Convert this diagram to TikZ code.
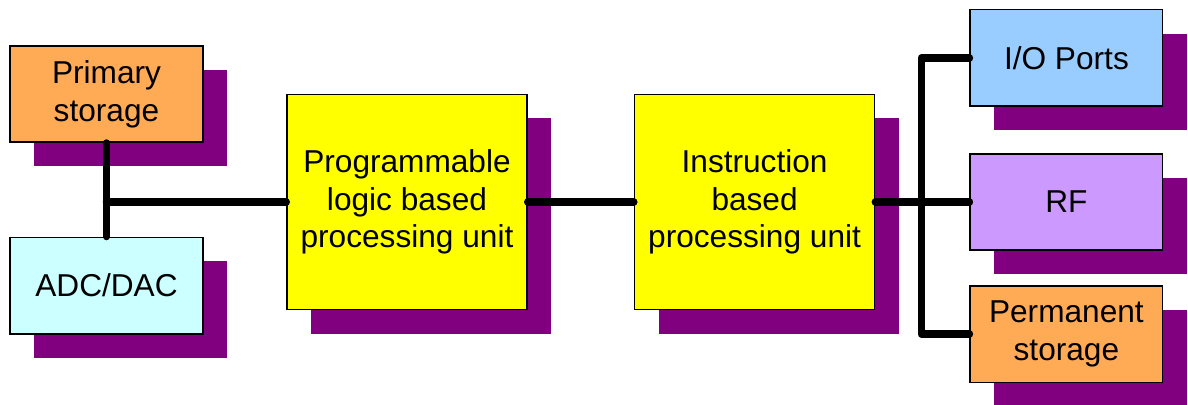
\documentclass[tikz,border=0pt]{standalone}
\usepackage{fontspec}
\setmainfont{Liberation Sans}
\usetikzlibrary{positioning,shadows}

\definecolor{shadowpurple}{HTML}{800080}
\definecolor{storeorange}{HTML}{FFAA55}
\definecolor{adccyan}{HTML}{CCFFFF}
\definecolor{portblue}{HTML}{99CCFF}
\definecolor{rfviolet}{HTML}{CC99FF}
\definecolor{unityellow}{HTML}{FFFF00}

\begin{document}
\begin{tikzpicture}[auto,node distance=1.87cm,
		box node/.style={rectangle,draw,line width=0.9pt,align=center,inner sep=0pt,
			font=\fontsize{18}{21.5}\selectfont,
			drop shadow={shadow xshift=0.48cm,shadow yshift=-0.48cm,fill=shadowpurple,opacity=1}},
		small node/.style={box node,minimum width=3.85cm,minimum height=1.93cm},
		big node/.style={box node,minimum width=4.8cm,minimum height=4.3cm,fill=unityellow}]
		
		\useasboundingbox (0,0) rectangle (23.76,8.08);
		
		\node[small node,fill=storeorange] (1) at (2.13,6.2) {Primary\\storage};
		\node[small node,fill=adccyan] (2) [below=of 1] {ADC/DAC};
		\node[big node] (3) at (8.14,4.04) {Programmable\\logic based\\processing unit};
		\node[big node] (4) [right=2.12cm of 3] {Instruction\\based\\processing unit};
		\node[small node,fill=rfviolet] (6) [right=1.88cm of 4] {RF};
		\node[small node,fill=portblue] (5) [above=0.92cm of 6] {I/O Ports};
		\node[small node,fill=storeorange] (7) [below=0.68cm of 6] {Permanent\\storage};
		
		\coordinate (j) at (1.south |- 3.west);
		\coordinate[right=0.92cm of 4.east] (b);
		
		\path[line width=4.3pt,line cap=round,line join=round]
		(1) edge (2)
		(j) edge (3)
		(3) edge (4)
		(4) edge (6);
		\draw[line width=4.3pt,line cap=round,line join=round] (5.west) -| (b) |- (7.west);
\end{tikzpicture}
\end{document}
